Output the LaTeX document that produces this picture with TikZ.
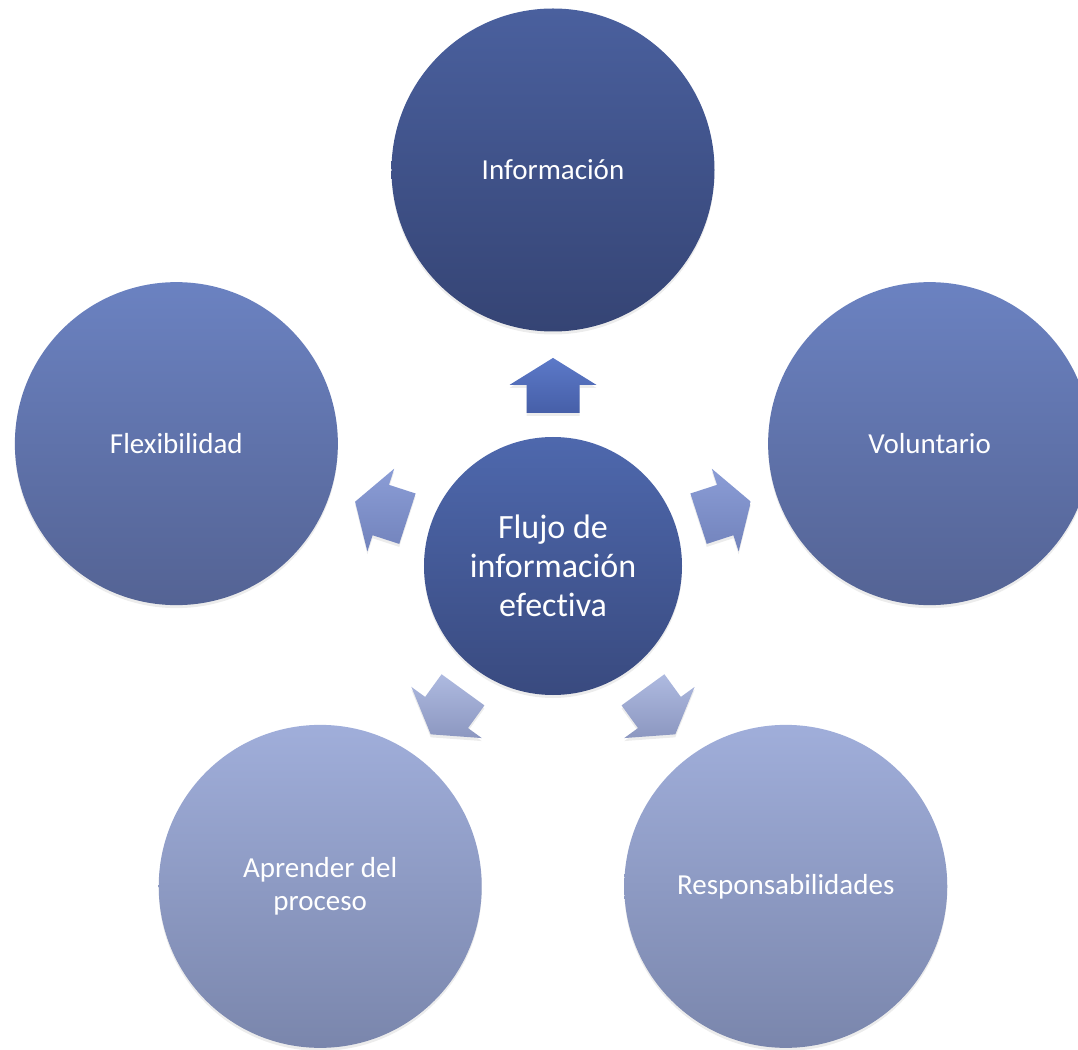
\documentclass[tikz,border=0pt]{standalone}
\usepackage{fontspec}
\setmainfont{Carlito}[Ligatures=NoCommon]
\usepackage{tikz}
\usetikzlibrary{calc, shadows}
\definecolor{darktop}{RGB}{74,96,158}
\definecolor{darkbot}{RGB}{53,68,116}
\definecolor{midtop}{RGB}{107,130,193}
\definecolor{midbot}{RGB}{84,99,148}
\definecolor{lighttop}{RGB}{160,174,218}
\definecolor{lightbot}{RGB}{122,134,172}
\definecolor{hubtop}{RGB}{78,104,173}
\definecolor{hubbot}{RGB}{57,74,127}
\tikzset{
  topic/.style={circle, minimum size=323pt, inner sep=0pt, text=white, align=center,
                font=\fontsize{29}{33}\selectfont, shading=axis,
                drop shadow={shadow xshift=0pt, shadow yshift=-3pt, opacity=0.15}},
  hub/.style={topic, minimum size=258pt, font=\fontsize{34}{39}\selectfont,
              top color=hubtop, bottom color=hubbot}
}

\begin{document}
\begin{tikzpicture}[x=1pt, y=1pt]
  \useasboundingbox (-553,-483) rectangle (525,566);
  \node[hub] (flujo) at (0,0) {Flujo de\\información\\efectiva};
  \node[topic, top color=darktop, bottom color=darkbot] (info) at (90:396) {Información};
  \node[topic, top color=midtop, bottom color=midbot] (flex) at (162:396) {Flexibilidad};
  \node[topic, top color=midtop, bottom color=midbot] (volun) at (18:396) {Voluntario};
  \node[topic, top color=lighttop, bottom color=lightbot] (aprender) at (234:396) {Aprender del\\proceso};
  \node[topic, top color=lighttop, bottom color=lightbot] (respons) at (306:396) {Responsabilidades};
  % block arrows from the hub towards each topic
  \foreach \n/\a/\ct/\cb in {info/90/{rgb,255:red,92;green,121;blue,200}/{rgb,255:red,70;green,95;blue,168},
                             flex/162/{rgb,255:red,139;green,157;blue,214}/{rgb,255:red,114;green,131;blue,188},
                             volun/18/{rgb,255:red,139;green,157;blue,214}/{rgb,255:red,114;green,131;blue,188},
                             aprender/234/{rgb,255:red,174;green,186;blue,224}/{rgb,255:red,140;green,151;blue,192},
                             respons/306/{rgb,255:red,174;green,186;blue,224}/{rgb,255:red,140;green,151;blue,192}} {
    \path[shading=axis, top color=\ct, bottom color=\cb,
          drop shadow={shadow xshift=0pt, shadow yshift=-3pt, opacity=0.15},
          shift={($(flujo)!0.456!(\n)$)}, rotate=\a]
      (-27.5,-26.5) -- (0.5,-26.5) -- (0.5,-43.5) -- (27.5,0)
      -- (0.5,43.5) -- (0.5,26.5) -- (-27.5,26.5) -- cycle;
  }
\end{tikzpicture}
\end{document}
